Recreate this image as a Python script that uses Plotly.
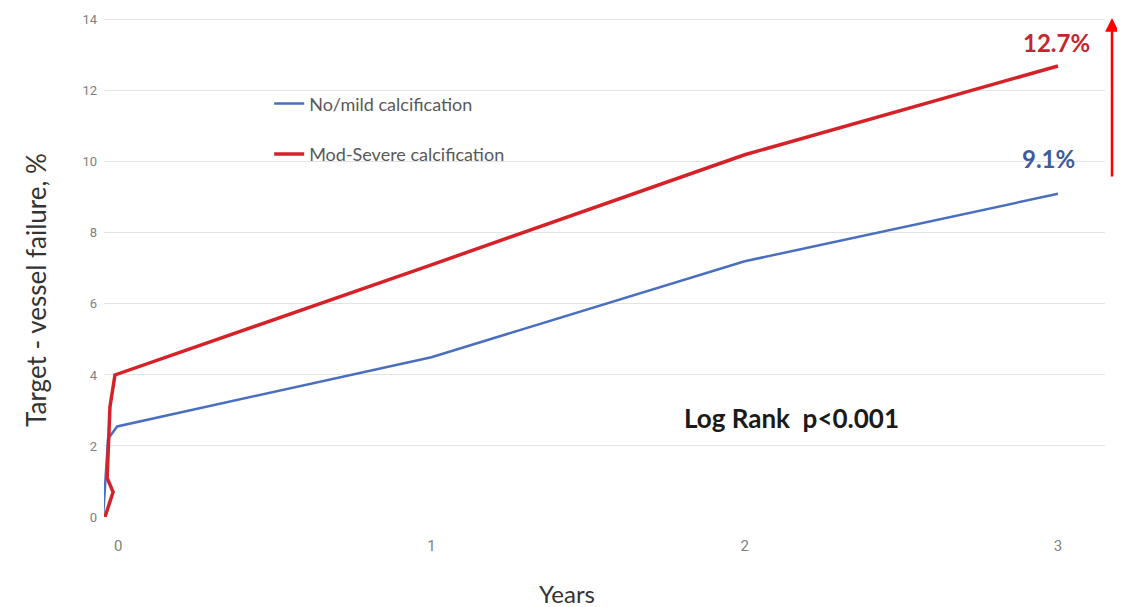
import plotly.graph_objects as go

# Data
blue_name = "No/mild calcification"
blue_x = [-0.048, -0.032, -0.003, 1.0, 2.0, 3.0]
blue_y = [0.0, 2.2, 2.55, 4.5, 7.2, 9.1]

red_name = "Mod-Severe calcification"
red_x = [-0.042, -0.016, -0.035, -0.026, -0.01, 1.0, 2.0, 3.0]
red_y = [0.0, 0.7, 1.1, 3.1, 4.0, 7.1, 10.2, 12.7]

x_ticks = [0, 1, 2, 3]
y_ticks = [0, 2, 4, 6, 8, 10, 12, 14]

x_title = "Years"
y_title = "Target - vessel failure, %"
blue_end_label = "9.1%"
red_end_label = "12.7%"
stat_label = "Log Rank  p<0.001"

BLUE = "#4A6FBF"
RED = "#D42228"
FONT = "Lato, Open Sans, sans-serif"
TICKFONT = "Liberation Sans Narrow, Roboto, sans-serif"

fig = go.Figure()
fig.add_trace(go.Scatter(x=blue_x, y=blue_y, mode="lines", name=blue_name,
                         legendgroup="a",
                         line=dict(color=BLUE, width=2.5), cliponaxis=False))
fig.add_trace(go.Scatter(x=red_x, y=red_y, mode="lines", name=red_name,
                         legendgroup="b",
                         line=dict(color=RED, width=3.5), cliponaxis=False))

fig.add_annotation(x=2.995, y=13.35, text="<b>%s</b>" % red_end_label, showarrow=False,
                   font=dict(family=FONT, size=24, color="#C4262E"),
                   xanchor="center", yanchor="middle")
fig.add_annotation(x=2.97, y=10.1, text="<b>%s</b>" % blue_end_label, showarrow=False,
                   font=dict(family=FONT, size=24, color="#3D5C9E"),
                   xanchor="center", yanchor="middle")
fig.add_annotation(x=2.15, y=2.8, text="<b>%s</b>" % stat_label, showarrow=False,
                   font=dict(family=FONT, size=26, color="#1a1a1a"),
                   xanchor="center", yanchor="middle")

# axis titles
fig.add_annotation(xref="paper", yref="paper", x=-0.068, y=0.455, text=y_title,
                   textangle=-90, showarrow=False, xanchor="center", yanchor="middle",
                   font=dict(family=FONT, size=26, color="#333333"))
fig.add_annotation(xref="paper", yref="paper", x=0.4625, y=-0.154, text=x_title,
                   showarrow=False, xanchor="center", yanchor="middle",
                   font=dict(family=FONT, size=24, color="#333333"))

# red arrow at right edge
fig.add_annotation(xref="paper", yref="y", x=1.007, y=14.05,
                   axref="pixel", ayref="pixel", ax=0, ay=160,
                   showarrow=True, arrowhead=2, arrowsize=1.1, arrowwidth=2.5,
                   arrowcolor="#FF0000", text="")

fig.update_layout(
    width=1125, height=607,
    margin=dict(l=96, r=28, t=10, b=98, autoexpand=False),
    paper_bgcolor="white", plot_bgcolor="white",
    font=dict(family=FONT, color="#404040"),
    showlegend=True,
    legend=dict(x=0.165, y=0.865, xanchor="left", yanchor="top",
                bgcolor="rgba(0,0,0,0)", traceorder="grouped", tracegroupgap=24,
                font=dict(family=FONT, size=18, color="#595959"),
                itemwidth=30),
    xaxis=dict(range=[-0.045, 3.15], tickmode="array", tickvals=x_ticks,
               showgrid=False, zeroline=False, showline=False, automargin=False,
               ticks="", ticklabelstandoff=18,
               tickfont=dict(family=TICKFONT, size=15, color="#808080")),
    yaxis=dict(range=[0, 14.05], tickmode="array", tickvals=y_ticks,
               showgrid=True, gridcolor="#E3E3E3", gridwidth=1, zeroline=False, showline=False,
               ticks="", ticklabelstandoff=6, automargin=False,
               tickfont=dict(family=TICKFONT, size=13, color="#808080")),
)

fig.write_html("out.html")
